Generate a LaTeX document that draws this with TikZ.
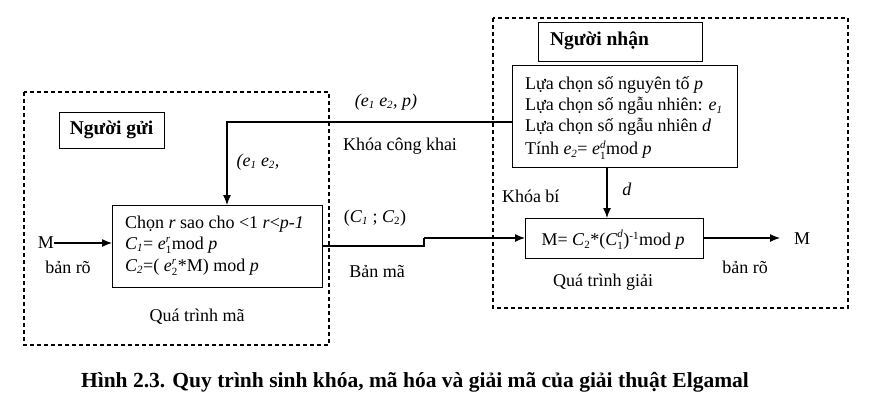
\documentclass[tikz,border=0pt]{standalone}
\usepackage{amsmath}
\usepackage{fontspec}
\setmainfont{Liberation Serif}
\usetikzlibrary{arrows.meta}
\DeclareMathSizes{18}{18}{11}{8}
\newcommand\supsub[3]{$\textit{#1}_{\textrm{#2}}^{\textit{#3}}$}
\begin{document}
\begin{tikzpicture}[x=1pt,y=-1pt,
  every node/.style={inner sep=0pt,outer sep=0pt},
  txt/.style={font=\fontsize{18}{21}\selectfont},
  hdr/.style={font=\fontsize{19.5}{22}\selectfont\bfseries},
  box/.style={draw,line width=1pt,inner sep=0pt,anchor=north west},
  dbox/.style={draw,line width=1.1pt,dash pattern=on 4pt off 3pt},
  conn/.style={line width=1.2pt},
  arr/.style={line width=1.2pt,-{Latex[length=10pt,width=8pt]}}]
\useasboundingbox (0,0) rectangle (877,407);
% dashed frames
\draw[dbox] (24,92) rectangle (329,345);
\draw[dbox] (493,18) rectangle (848,308);
% boxes
\node[box,minimum width=105pt,minimum height=36pt] (sender) at (59,112) {};
\node[hdr] (sendert) at (111.5,130) {Người gửi};
\node[box,minimum width=164pt,minimum height=39pt] (recv) at (538,22) {};
\node[hdr,anchor=west] (recvt) at (550,41) {Người nhận};
\node[box,minimum width=225pt,minimum height=102pt] (key) at (512,65) {};
\node[txt,anchor=west] (k1) at (525,85) {Lựa chọn số nguyên tố \textit{p}};
\node[txt,anchor=west] (k2) at (525,106) {Lựa chọn số ngẫu nhiên: \textit{e}\textsubscript{\textit{1}}};
\node[txt,anchor=west] (k3) at (525,127) {Lựa chọn số ngẫu nhiên \textit{d}};
\node[txt,anchor=west] (k4) at (525,150) {Tính \textit{e}\textsubscript{\textit{2}}= \supsub{e}{1}{d}mod \textit{p}};
\node[box,minimum width=210pt,minimum height=82pt] (enc) at (112,205) {};
\node[txt,anchor=west] (e1) at (125,224) {Chọn \textit{r} sao cho <1 \textit{r}<\textit{p-1}};
\node[txt,anchor=west] (e2) at (125,245) {\textit{C}\textsubscript{\textit{1}}= \supsub{e}{1}{r}mod \textit{p}};
\node[txt,anchor=west] (e3) at (125,267) {\textit{C}\textsubscript{\textit{2}}=( \supsub{e}{2}{r}*M) mod \textit{p}};
\node[box,minimum width=178pt,minimum height=40pt] (dec) at (525,218) {};
\node[txt] (dect) at (613,240) {M= \textit{C}\textsubscript{2}*(\supsub{C}{1}{d})\textsuperscript{-1}mod \textit{p}};
% terminals
\node[txt] (Min) at (46,243) {M};
\node[txt] (Mout) at (802,239) {M};
\coordinate (c1) at (227,122);
\coordinate (c2) at (424,246);
\coordinate (c3) at (424,238);
% connectors
\draw[arr] (key.west |- c1) -- (c1) -- (c1 |- enc.north);
\draw[arr] (Min.east) -- (enc.west |- Min.east);
\draw[conn] (enc.east |- c2) -- (c2) -- (c3);
\draw[arr] (c3) -- (dec.west |- c3);
\draw[arr] (key.south -| 607,0) -- (dec.north -| 607,0);
\draw[arr] (dec.east) -- (dec.east -| 780,0);
% labels
\node[txt] (l1) at (386,102) {\textit{(e\textsubscript{1} e\textsubscript{2}, p)}};
\node[txt] (l2) at (400,146) {Khóa công khai};
\node[txt] (l3) at (258,162) {\textit{(e\textsubscript{1} e\textsubscript{2},}};
\node[txt] (l4) at (375,218) {(\textit{C}\textsubscript{\textit{1}} ; \textit{C}\textsubscript{2})};
\node[txt] (l5) at (377,272) {Bản mã};
\node[txt,anchor=west] (l6) at (502,196) {Khóa bí};
\node[txt] (l7) at (627,189) {\textit{d}};
\node[txt] (l8) at (68,267) {bản rõ};
\node[txt] (l9) at (745,267) {bản rõ};
\node[txt] (l10) at (197,317) {Quá trình mã};
\node[txt] (l11) at (603,282) {Quá trình giải};
\node[font=\fontsize{21.5}{24}\selectfont\bfseries] (cap) at (415,382) {Hình 2.3. Quy trình sinh khóa, mã hóa và giải mã của giải thuật Elgamal};
\end{tikzpicture}
\end{document}
